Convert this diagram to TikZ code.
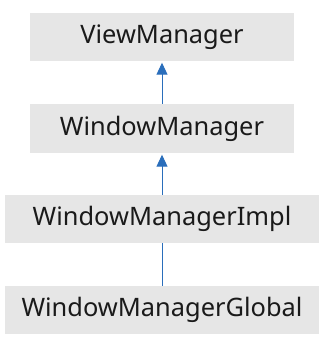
\documentclass[tikz,border=0pt]{standalone}
\usepackage{fontspec}
\setmainfont{Noto Sans}
\usetikzlibrary{arrows.meta}
\definecolor{boxgray}{HTML}{E6E6E6}
\definecolor{arrowblue}{HTML}{2A6EBB}
\definecolor{txt}{HTML}{1A1A1A}
\begin{document}
\begin{tikzpicture}[x=1bp,y=-1bp,
  cls/.style={fill=boxgray,draw=none,inner sep=0pt,text=txt,font=\fontsize{25.5}{30}\selectfont},
  inh/.style={draw=arrowblue,line width=1bp,-{Triangle[width=11bp,length=12bp]},shorten >=1.5bp},
  plain/.style={draw=arrowblue,line width=1bp}]
\useasboundingbox (0,0) rectangle (326,346);
\node[cls,minimum width=264bp,minimum height=48bp] (vm) at (162,37) {ViewManager};
\node[cls,minimum width=264bp,minimum height=49bp] (wm) at (162,128.5) {WindowManager};
\node[cls,minimum width=314bp,minimum height=48bp] (wmi) at (162,219) {WindowManagerImpl};
\node[cls,minimum width=314bp,minimum height=48bp] (wmg) at (162,310) {WindowManagerGlobal};
\draw[inh] (wm.north) -- (vm.south);
\draw[inh] (wmi.north) -- (wm.south);
\draw[plain] (wmg.north) -- (wmi.south);
\end{tikzpicture}
\end{document}
